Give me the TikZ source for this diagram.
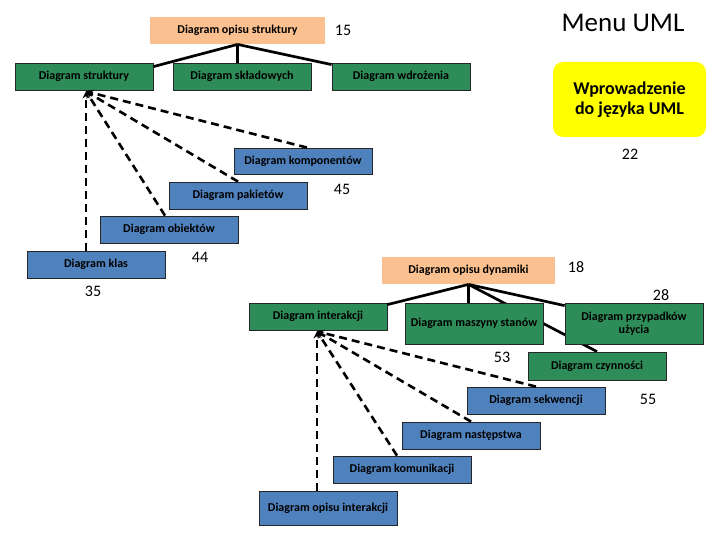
\documentclass[tikz,border=0pt]{standalone}
\usepackage{fontspec}
\setmainfont{Carlito}
\usetikzlibrary{arrows.meta,backgrounds}
\definecolor{boxgreen}{RGB}{46,140,88}
\definecolor{boxblue}{RGB}{79,129,189}
\definecolor{peach}{RGB}{250,192,144}
\definecolor{yel}{RGB}{255,255,0}
\tikzset{
  box/.style={draw=black!85, line width=0.8pt, minimum width=138pt, minimum height=27pt, inner sep=1pt,
    align=center, text=black, font=\bfseries\fontsize{12}{13.5}\selectfont},
  gbox/.style={box, fill=boxgreen},
  bbox/.style={box, fill=boxblue},
  pbox/.style={box, draw=none, fill=peach, minimum width=175pt},
  num/.style={font=\fontsize{16}{18}\selectfont, inner sep=0pt},
  conn/.style={line width=2.7pt, black},
  dconn/.style={line width=2.6pt, black, dash pattern=on 8pt off 5pt, -{Stealth[length=7pt,width=7pt]}},
}
\begin{document}
\begin{tikzpicture}[x=1pt,y=-1pt]
\useasboundingbox (0,0) rectangle (720,540);
% structure
\node[pbox] (ops) at (237.5,30.5) {Diagram opisu struktury};
\node[gbox] (str) at (84,76.5) {Diagram struktury};
\node[gbox] (skl) at (242,76.5) {Diagram składowych};
\node[gbox] (wdr) at (401,76.5) {Diagram wdrożenia};
\node[bbox, minimum height=26pt] (kom) at (303,161) {Diagram komponentów};
\node[bbox] (pak) at (238,195.5) {Diagram pakietów};
\node[bbox] (obi) at (169,229.5) {Diagram obiektów};
\node[bbox] (kla) at (96,264.5) {Diagram klas};
% dynamics
\node[pbox, minimum width=173pt] (opd) at (468.5,270.5) {Diagram opisu dynamiki};
\node[gbox] (int) at (318,316.5) {Diagram interakcji};
\node[gbox, minimum height=41pt] (mas) at (474,323.5) {Diagram maszyny stanów};
\node[gbox, minimum height=41pt] (prz) at (634,323.5) {Diagram przypadków\\użycia};
\node[gbox, minimum height=28pt] (czy) at (597,366) {Diagram czynności};
\node[bbox] (sek) at (536,400.5) {Diagram sekwencji};
\node[bbox] (nas) at (471,435.5) {Diagram następstwa};
\node[bbox] (kmu) at (402,469.5) {Diagram komunikacji};
\node[bbox, minimum height=34pt] (opi) at (328,508) {Diagram opisu interakcji};
% yellow
\node[fill=yel, rounded corners=10pt, minimum width=153pt, minimum height=75pt, align=center,
  font=\bfseries\fontsize{18}{20}\selectfont] (wpr) at (629.5,99.5) {Wprowadzenie\\do języka UML};
% labels
\node[font=\fontsize{27}{30}\selectfont, inner sep=0pt] (menu) at (623,23) {Menu UML};
\node[num] (n15) at (343,30) {15};
\node[num] (n22) at (630,154) {22};
\node[num] (n45) at (342,189) {45};
\node[num] (n44) at (200,257) {44};
\node[num] (n35) at (93,291) {35};
\node[num] (n18) at (576,267) {18};
\node[num] (n28) at (661,295) {28};
\node[num] (n53) at (502,357) {53};
\node[num] (n55) at (648,399) {55};
% solid connectors
\draw[conn] (ops.south) -- ([yshift=-4pt]str.north east);
\draw[conn] (ops.south) -- (ops.south |- skl.north);
\draw[conn] (ops.south) -- ([yshift=-2pt]wdr.north west);
\draw[conn] (opd.south) -- ([yshift=-2pt]int.north east);
\draw[conn] (opd.south) -- (opd.south |- mas.north);
\draw[conn] (opd.south) -- ([yshift=-3pt]prz.north west);
\begin{scope}[on background layer]
\draw[conn] (opd.south) -- (czy.north);
\end{scope}
% dashed connectors
\coordinate (t1) at ([xshift=2pt,yshift=-1pt]str.south);
\draw[dconn] (kla.north -| t1) -- (t1);
\draw[dconn] ([xshift=-4pt]obi.north) -- (t1);
\draw[dconn] (pak.north) -- (t1);
\draw[dconn] ([xshift=4pt]kom.north) -- (t1);
\coordinate (t2) at ([xshift=-1pt,yshift=-1pt]int.south);
\draw[dconn] (opi.north -| t2) -- (t2);
\draw[dconn] ([xshift=-5pt]kmu.north) -- (t2);
\draw[dconn] (nas.north) -- (t2);
\draw[dconn] (sek.north) -- (t2);
\end{tikzpicture}
\end{document}
